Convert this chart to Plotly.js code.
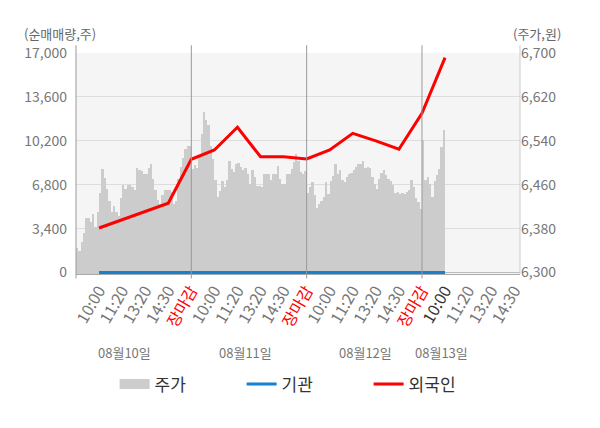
<!DOCTYPE html>
<html>
<head>
<meta charset="utf-8">
<script src="https://cdn.plot.ly/plotly-3.0.1.min.js"></script>
<style>
  body { margin: 0; background: #fff; }
  #chart { width: 600px; height: 428px; }
</style>
</head>
<body>
<div id="chart"></div>
<script>
// 주가 (price), 50 slots per trading day
var priceDay1 = [6345, 6340, 6355, 6373, 6400, 6400, 6392, 6407, 6383, 6410,
  6445, 6488, 6472, 6452, 6430, 6410, 6422, 6410, 6403, 6435,
  6459, 6452, 6459, 6459, 6455, 6450, 6490, 6486, 6485, 6480,
  6480, 6490, 6498, 6470, 6450, 6432, 6425, 6441, 6450, 6450,
  6450, 6447, 6425, 6430, 6470, 6492, 6508, 6525, 6531, 6531];
var priceDay2 = [6489, 6496, 6491, 6510, 6553, 6592, 6578, 6569, 6531, 6507,
  6468, 6438, 6448, 6467, 6456, 6468, 6504, 6489, 6483, 6498,
  6499, 6493, 6487, 6491, 6480, 6462, 6486, 6474, 6458, 6457,
  6455, 6480, 6480, 6480, 6469, 6480, 6480, 6495, 6471, 6461,
  6462, 6479, 6480, 6489, 6501, 6516, 6504, 6483, 6480, 6485];
var priceDay3 = [6445, 6456, 6465, 6442, 6417, 6425, 6431, 6438, 6465, 6444,
  6467, 6476, 6497, 6480, 6486, 6468, 6465, 6474, 6480, 6481,
  6486, 6492, 6498, 6497, 6504, 6491, 6493, 6491, 6474, 6462,
  6453, 6471, 6481, 6487, 6477, 6470, 6467, 6459, 6445, 6447,
  6444, 6445, 6444, 6447, 6450, 6469, 6456, 6435, 6429, 6416];
var priceDay4 = [6541, 6468, 6474, 6462, 6438, 6467, 6478, 6489, 6528, 6559];

// 순매매량 at each labelled time
var foreignNet = [3450, 4070, 4690, 5370, 8770, 9490, 11250, 8970, 8960, 8800,
  9490, 10780, 10200, 9550, 12330, 16640];
var instNet = [0, 0, 0, 0, 0, 0, 0, 0, 0, 0, 0, 0, 0, 0, 0, 0];

var tickLabels = ['10:00', '11:20', '13:20', '14:30', '장마감',
  '10:00', '11:20', '13:20', '14:30', '장마감',
  '10:00', '11:20', '13:20', '14:30', '장마감',
  '10:00', '11:20', '13:20', '14:30'];
var dayLabels = ['08월10일', '08월11일', '08월12일', '08월13일'];
var dayLabelPos = [21.2, 73.3, 125.3, 158.3];
var dayBreaks = [50, 100, 150];

var leftTicks = [0, 3400, 6800, 10200, 13600, 17000];
var rightTicks = [6300, 6380, 6460, 6540, 6620, 6700];

var price = priceDay1.concat(priceDay2, priceDay3, priceDay4);
var priceX = price.map(function (v, i) { return i + 0.5; });

var tickVals = tickLabels.map(function (t, i) { return (i + 1) * 10; });
var tickText = tickLabels.map(function (t, i) {
  if (t === '장마감') return '<span style="color:#ff0000">' + t + '</span>';
  if (i === 15) return '<span style="color:#333333">' + t + '</span>';
  return t;
});
var lineX = foreignNet.map(function (v, i) { return (i + 1) * 10; });

// price on the primary (right) axis so the net-volume lines draw above it
var data = [{
  type: 'bar',
  x: priceX,
  y: price,
  width: 1,
  marker: {color: '#cccccc', line: {width: 0}},
  showlegend: false,
  hoverinfo: 'skip'
}, {
  type: 'scatter',
  mode: 'lines',
  x: [-20, -10],
  y: [0, 0],
  yaxis: 'y2',
  name: '주가',
  line: {color: '#cccccc', width: 12}
}, {
  type: 'scatter',
  mode: 'lines',
  x: lineX,
  y: instNet,
  yaxis: 'y2',
  name: '기관',
  line: {color: '#1581d1', width: 3}
}, {
  type: 'scatter',
  mode: 'lines',
  x: lineX,
  y: foreignNet,
  yaxis: 'y2',
  name: '외국인',
  line: {color: '#ff0000', width: 3}
}];

var shapes = dayBreaks.map(function (b) {
  return {type: 'line', xref: 'x', yref: 'paper', x0: b, x1: b, y0: -0.02, y1: 1.035,
    line: {color: '#999999', width: 1}};
});
shapes.push({type: 'line', xref: 'paper', yref: 'paper', x0: 0, x1: 0, y0: -0.02, y1: 1.035,
  line: {color: '#999999', width: 1}});
shapes.push({type: 'line', xref: 'paper', yref: 'paper', x0: 1, x1: 1, y0: 0, y1: 1.035,
  line: {color: '#cccccc', width: 1}});

var annotations = dayLabels.map(function (d, i) {
  return {text: d, xref: 'x', yref: 'paper', x: dayLabelPos[i], y: -0.357,
    yanchor: 'middle', showarrow: false, font: {size: 13, color: '#777777'}};
});
annotations.push({text: '(순매매량,주)', xref: 'paper', yref: 'paper', x: -0.122, y: 1.09,
  xanchor: 'left', yanchor: 'middle', showarrow: false, font: {size: 13, color: '#666666'}});
annotations.push({text: '(주가,원)', xref: 'paper', yref: 'paper', x: 1.097, y: 1.09,
  xanchor: 'right', yanchor: 'middle', showarrow: false, font: {size: 13, color: '#666666'}});

var layout = {
  width: 600,
  height: 428,
  margin: {t: 53, b: 154, l: 76, r: 80},
  paper_bgcolor: '#ffffff',
  plot_bgcolor: '#f5f5f5',
  font: {family: '"Noto Sans CJK KR", "Noto Sans", sans-serif', color: '#777777', size: 14},
  bargap: 0,
  showlegend: true,
  legend: {orientation: 'h', x: 0.516, xanchor: 'center', y: -0.5, yanchor: 'middle',
    font: {size: 17, color: '#333333'}, entrywidth: 82},
  xaxis: {
    range: [0, 192.5],
    tickmode: 'array',
    tickvals: tickVals,
    ticktext: tickText,
    tickangle: -60,
    showgrid: false,
    zeroline: false,
    showline: true,
    linecolor: '#aaaaaa',
    ticks: '',
    tickfont: {size: 16, color: '#777777'}
  },
  yaxis: {
    side: 'right',
    range: [6300 - 110 / 17000 * 400, 6700],
    tickmode: 'array',
    tickvals: rightTicks,
    ticktext: rightTicks.map(function (v) { return v.toLocaleString('en-US'); }),
    gridcolor: '#dddddd',
    zeroline: false,
    showline: false,
    ticks: ''
  },
  yaxis2: {
    overlaying: 'y',
    side: 'left',
    range: [-110, 17000],
    tickmode: 'array',
    tickvals: leftTicks,
    ticktext: leftTicks.map(function (v) { return v.toLocaleString('en-US'); }),
    showgrid: false,
    zeroline: true,
    zerolinecolor: '#bbbbbb',
    showline: false,
    ticks: '',
    ticklabelstandoff: 8
  },
  shapes: shapes,
  annotations: annotations
};

Plotly.newPlot('chart', data, layout, {displayModeBar: false, staticPlot: true});
</script>
</body>
</html>
